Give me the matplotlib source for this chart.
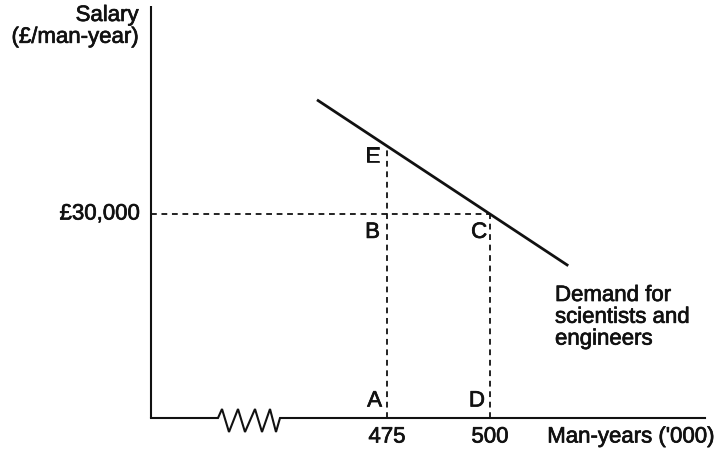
import matplotlib.pyplot as plt
import matplotlib.patheffects as pe
import numpy as np

plt.rcParams['font.family'] = ['Liberation Sans', 'DejaVu Sans']

# demand curve (thousand man-years, £/man-year)
demand_x = [458, 519]
demand_y = [46800, 22400]

# reference quantities and salary
q_labels = ['475', '500']
q_values = [475, 500]
salary_level = 30000
salary_label = '£30,000'
salary_at_475 = 40000

fig = plt.figure(figsize=(7.17, 4.51), dpi=100)
ax = fig.add_axes([151 / 717, 33 / 451, 554 / 717, 412 / 451])
ax.set_xlim(417.7, 552.2)
ax.set_ylim(0, 60600)
ax.axis('off')

ink = '#111111'
# scanned print looks a bit heavier than regular weight
heavy = [pe.withStroke(linewidth=0.5, foreground=ink)]

# y axis
ax.plot([0, 0], [0, 1], transform=ax.transAxes, color=ink, lw=1.5,
        solid_capstyle='butt', clip_on=False)

# x axis with break (zigzag), in pixel offsets from axes origin
W, H = 554, 412
zx = [0, 67, 71, 78, 87, 94, 104, 111, 119, 125, 129, W]
zy = [0, 0, 9, -14, 9, -14, 9, -14, 9, -14, 0, 0]
ax.plot(np.array(zx) / W, np.array(zy) / H, transform=ax.transAxes,
        color=ink, lw=1.5, clip_on=False, solid_joinstyle='miter')

# demand line
ax.plot(demand_x, demand_y, color=ink, lw=2.0, solid_capstyle='butt')

dash = dict(color=ink, lw=1.3, dashes=(3.2, 2.6))
ax.plot([ax.get_xlim()[0], q_values[1]], [salary_level, salary_level], **dash)
ax.plot([q_values[0], q_values[0]], [0, salary_at_475], **dash)
ax.plot([q_values[1], q_values[1]], [0, salary_level], **dash)

fs = 16
txt = dict(fontsize=fs, color=ink, path_effects=heavy)
# point letters
ax.text(q_values[0] - 1.7, 38400, 'E', ha='right', va='center', **txt)
ax.text(q_values[0] - 1.7, 27300, 'B', ha='right', va='center', **txt)
ax.text(q_values[1] - 0.7, 27300, 'C', ha='right', va='center', **txt)
ax.text(q_values[0] - 1.2, 2500, 'A', ha='right', va='center', **txt)
ax.text(q_values[1] - 1.2, 2500, 'D', ha='right', va='center', **txt)

# tick labels
for q, lab in zip(q_values, q_labels):
    ax.text(q, -2800, lab, ha='center', va='center', **txt)
ax.text(-0.02, salary_level, salary_label, transform=ax.get_yaxis_transform(),
        ha='right', va='center', **txt)

# axis titles
fig.text(139 / 717, 1 - 5 / 451, 'Salary\n(£/man-year)', ha='right', va='top',
         linespacing=1.05, **txt)
fig.text(715 / 717, 1 - 437 / 451, "Man-years ('000)", ha='right', va='center', **txt)

# demand annotation
fig.text(555 / 717, 1 - 285 / 451, 'Demand for\nscientists and\nengineers',
         ha='left', va='top', linespacing=1.05, **txt)

fig.savefig('out.png', dpi=100)
